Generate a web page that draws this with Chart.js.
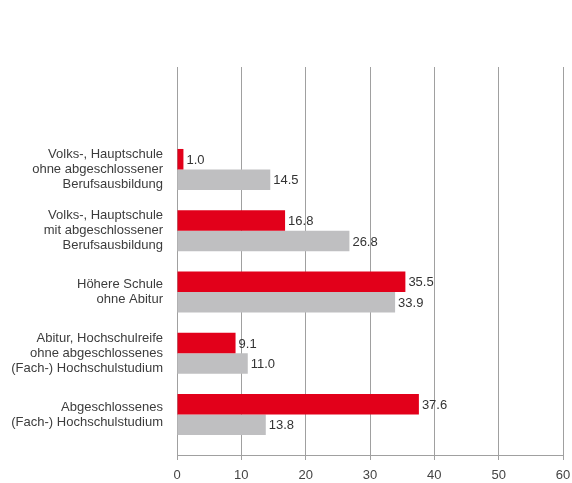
<!DOCTYPE html>
<html>
<head>
<meta charset="utf-8">
<script src="https://cdn.jsdelivr.net/npm/chart.js@4"></script>
<style>
  html, body { margin: 0; padding: 0; background: #fff; }
  #wrap { width: 572px; height: 483px; }
</style>
</head>
<body>
<div id="wrap"><canvas id="chart"></canvas></div>
<script>
// data
const categories = [
  ['Volks-, Hauptschule', 'ohne abgeschlossener', 'Berufsausbildung'],
  ['Volks-, Hauptschule', 'mit abgeschlossener', 'Berufsausbildung'],
  ['Höhere Schule', 'ohne Abitur'],
  ['Abitur, Hochschulreife', 'ohne abgeschlossenes', '(Fach-) Hochschulstudium'],
  ['Abgeschlossenes', '(Fach-) Hochschulstudium']
];
const redValues = [1.0, 16.8, 35.5, 9.1, 37.6];
const grayValues = [14.5, 26.8, 33.9, 11.0, 13.8];
const xTicks = [0, 10, 20, 30, 40, 50, 60];

const FONT = '"Liberation Sans", Arial, sans-serif';

function toPoints(values) {
  return values.map((v, i) => ({ x: v, y: i }));
}

// value text at the end of each bar
const valueLabels = {
  id: 'valueLabels',
  afterDatasetsDraw(chart) {
    const ctx = chart.ctx;
    ctx.save();
    ctx.font = '13px ' + FONT;
    ctx.fillStyle = '#333';
    ctx.textBaseline = 'middle';
    ctx.textAlign = 'left';
    chart.data.datasets.forEach((ds, i) => {
      chart.getDatasetMeta(i).data.forEach((bar, j) => {
        ctx.fillText(ds.data[j].x.toFixed(1), bar.x + 3, bar.y + 1);
      });
    });
    ctx.restore();
  }
};

new Chart(document.getElementById('chart'), {
  type: 'bar',
  data: {
    datasets: [
      { data: toPoints(redValues), backgroundColor: '#e2001a' },
      { data: toPoints(grayValues), backgroundColor: '#bfbfc1' }
    ]
  },
  options: {
    indexAxis: 'y',
    responsive: true,
    maintainAspectRatio: false,
    animation: false,
    categoryPercentage: 0.67,
    barPercentage: 1.0,
    layout: { padding: { top: 67, right: 0, bottom: 0, left: 0 } },
    plugins: {
      legend: { display: false },
      tooltip: { enabled: false }
    },
    scales: {
      x: {
        type: 'linear',
        min: 0,
        max: 60,
        afterBuildTicks: s => { s.ticks = xTicks.map(v => ({ value: v })); },
        afterFit: s => { s.height = 28; s.paddingRight = 9; s.paddingLeft = 0; },
        ticks: { color: '#444', font: { family: FONT, size: 13 }, padding: 8 },
        grid: { color: '#a0a0a0', lineWidth: 1, tickLength: 5 },
        border: { color: '#a0a0a0' }
      },
      y: {
        type: 'linear',
        reverse: true,
        offset: false,
        min: -1.673,
        max: 4.661,
        afterBuildTicks: s => { s.ticks = categories.map((c, i) => ({ value: i })); },
        afterFit: s => { s.width = 177; s.paddingTop = 0; s.paddingBottom = 0; },
        ticks: {
          autoSkip: false,
          color: '#3c3c3c',
          padding: 14,
          font: { family: FONT, size: 13, lineHeight: 1.15 },
          callback: v => categories[v] || ''
        },
        grid: { display: false, drawTicks: false, offset: false },
        border: { display: false }
      }
    }
  },
  plugins: [valueLabels]
});
</script>
</body>
</html>
